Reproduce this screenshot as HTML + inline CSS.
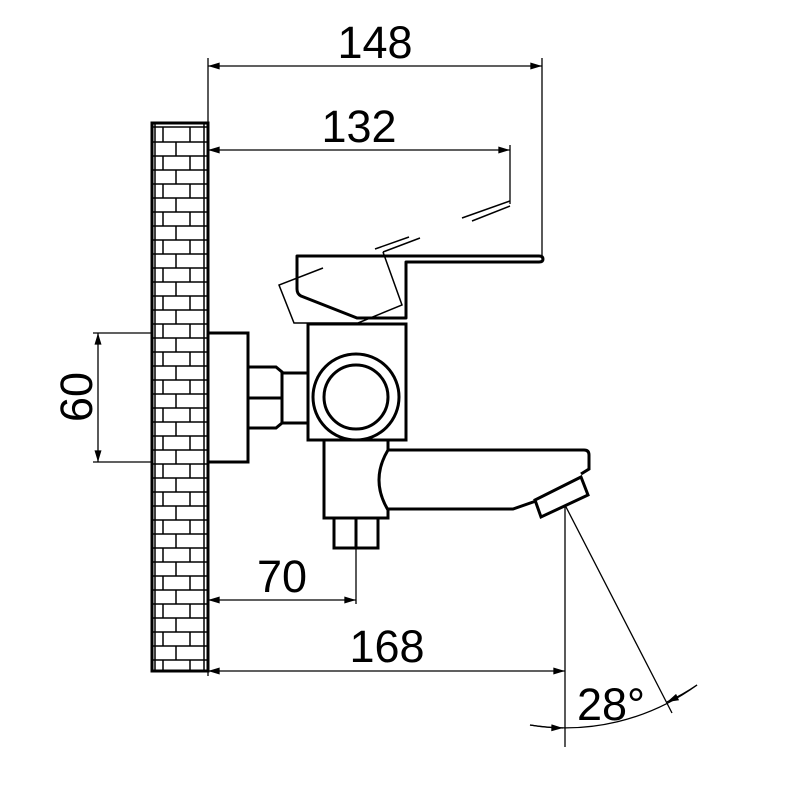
<!DOCTYPE html>
<html><head><style>html,body{margin:0;padding:0;background:#fff}svg{display:block}</style></head>
<body>
<svg width="800" height="800" viewBox="0 0 800 800" xmlns="http://www.w3.org/2000/svg">
<defs>
<marker id="a" viewBox="0 0 10 6" refX="10" refY="3" markerWidth="14" markerHeight="7" markerUnits="userSpaceOnUse" orient="auto-start-reverse"><path d="M0,0 L10,3 L0,6 Z" fill="#000"/></marker>
</defs>
<g fill="none" stroke="#000">
<g stroke-width="1.5">
<line x1="155" y1="123" x2="155" y2="671"/><line x1="204" y1="123" x2="204" y2="671"/>
<line x1="152" y1="127" x2="208" y2="127"/>
<path d="
M152,142H208M152,156H208M152,170H208M152,184H208M152,198H208M152,212H208M152,226H208M152,240H208M152,254H208M152,268H208M152,282H208M152,296H208M152,310H208M152,324H208M152,338H208M152,352H208M152,366H208M152,380H208M152,394H208M152,408H208M152,422H208M152,436H208M152,450H208M152,464H208M152,478H208M152,492H208M152,506H208M152,520H208M152,534H208M152,548H208M152,562H208M152,576H208M152,590H208M152,604H208M152,618H208M152,632H208M152,646H208M152,660H208"/>
<path d="
M163,127V142M190,127V142M176,142V156M163,156V170M190,156V170M176,170V184M163,184V198M190,184V198M176,198V212M163,212V226M190,212V226M176,226V240M163,240V254M190,240V254M176,254V268M163,268V282M190,268V282M176,282V296M163,296V310M190,296V310M176,310V324M163,324V338M190,324V338M176,338V352M163,352V366M190,352V366M176,366V380M163,380V394M190,380V394M176,394V408M163,408V422M190,408V422M176,422V436M163,436V450M190,436V450M176,450V464M163,464V478M190,464V478M176,478V492M163,492V506M190,492V506M176,506V520M163,520V534M190,520V534M176,534V548M163,548V562M190,548V562M176,562V576M163,576V590M190,576V590M176,590V604M163,604V618M190,604V618M176,618V632M163,632V646M190,632V646M176,646V660M163,660V671M190,660V671"/>
</g>
<rect x="152" y="123" width="56" height="548" stroke-width="3"/>

<g stroke-width="3">
<rect x="208" y="333" width="40" height="129"/>
<path d="M248,367H276L282,372V423L276,428H248"/>
<line x1="248" y1="398" x2="282" y2="398"/>
<path d="M282,373H320M282,423H320"/>
<rect x="308" y="324" width="98" height="116" fill="#fff"/>
<circle cx="356" cy="397" r="43" fill="#fff"/>
<circle cx="356" cy="397" r="32"/>
<path d="M388,440V450Q370,480 388,510V518H324V440"/>
<path d="M334,518V548H378V518M356,518V548"/>
<path d="M388,450H584Q589,450 589,455V469L581,474M536,501L513,509H388"/>
<path d="M535,500L541,517L588,495L581,477Z"/>
<path d="M297,256H539Q543,256 543,259Q543,262 539,262H406V318H357L301,296Q297,294 297,289Z" stroke-linejoin="round"/>
</g>
<g stroke-width="1.5">
<path d="M323,268L279,285L294,323H358L402,305L383,252"/>
<path d="M375,249L409,237M383,252L420,238M462,218L510,201M472,221L510,206"/>
</g>

<g stroke-width="1.3">
<line x1="208" y1="58" x2="208" y2="123"/>
<line x1="542" y1="58" x2="542" y2="259"/>
<line x1="208" y1="66" x2="542" y2="66" marker-start="url(#a)" marker-end="url(#a)"/>
<line x1="510" y1="145" x2="510" y2="204"/>
<line x1="208" y1="150" x2="510" y2="150" marker-start="url(#a)" marker-end="url(#a)"/>
<line x1="93" y1="333" x2="152" y2="333"/><line x1="93" y1="462" x2="152" y2="462"/>
<line x1="98" y1="333" x2="98" y2="462" marker-start="url(#a)" marker-end="url(#a)"/>
<line x1="356" y1="548" x2="356" y2="604"/>
<line x1="208" y1="600" x2="356" y2="600" marker-start="url(#a)" marker-end="url(#a)"/>
<line x1="208" y1="671" x2="208" y2="676"/>
<line x1="565" y1="505" x2="565" y2="747"/>
<line x1="208" y1="671" x2="565" y2="671" marker-start="url(#a)" marker-end="url(#a)"/>
<line x1="565" y1="505" x2="672" y2="713"/>
<path d="M530,725A223,223 0 0 0 697,685"/>
<path d="M530,725A223,223 0 0 0 563,728" marker-end="url(#a)"/>
<path d="M697,685A223,223 0 0 1 667,702" marker-end="url(#a)"/>
</g>
</g>
<g font-family="Liberation Sans, sans-serif" font-size="45" fill="#000" text-anchor="middle">
<text x="375" y="58">148</text>
<text x="359" y="142">132</text>
<text x="282" y="592">70</text>
<text x="387" y="662">168</text>
<text x="611" y="720">28°</text>
<text transform="translate(92,397) rotate(-90)">60</text>
</g>
</svg>
</body></html>
